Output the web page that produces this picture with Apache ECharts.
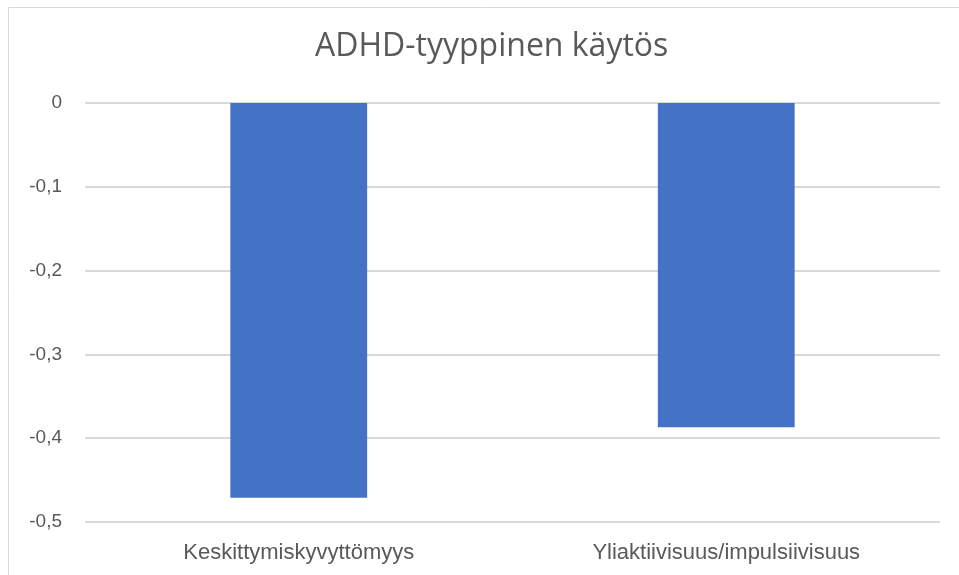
<!DOCTYPE html>
<html>
<head>
<meta charset="utf-8">
<script src="https://cdn.jsdelivr.net/npm/echarts@6/dist/echarts.min.js"></script>
<style>
html,body{margin:0;padding:0;background:#fff;}
#chart{width:959px;height:575px;}
</style>
</head>
<body>
<div id="chart"></div>
<script>
var categories = ['Keskittymiskyvyttömyys', 'Yliaktiivisuus/impulsiivisuus'];
var values = [-0.471, -0.387];
var yTicks = {min: -0.5, max: 0, interval: 0.1};

function fmtNum(v){
	return (Math.round(v * 10) / 10).toString().replace('.', ',');
}

var myChart = echarts.init(document.getElementById('chart'));
myChart.setOption({
	animation: false,
	title: {
		text: 'ADHD-tyyppinen käytös',
		left: 310,
		top: 26,
		textStyle: {
			color: '#595959',
			fontFamily: 'Open Sans',
			fontSize: 32,
			fontWeight: 'normal'
		}
	},
	graphic: [{
		type: 'rect',
		shape: {x: 8.5, y: 7.5, width: 1200, height: 1200},
		style: {fill: 'none', stroke: '#d9d9d9', lineWidth: 1},
		silent: true
	}],
	grid: {left: 85, right: 19, top: 103, bottom: 53},
	xAxis: {
		type: 'category',
		data: categories,
		position: 'bottom',
		axisLine: {show: false, onZero: false},
		axisTick: {show: false},
		axisLabel: {
			color: '#595959',
			fontFamily: 'Liberation Sans',
			fontSize: 22,
			margin: 20
		}
	},
	yAxis: {
		type: 'value',
		min: yTicks.min,
		max: yTicks.max,
		interval: yTicks.interval,
		axisLine: {show: false},
		axisTick: {show: false},
		axisLabel: {
			color: '#595959',
			fontFamily: 'Liberation Sans',
			fontSize: 19,
			margin: 23,
			formatter: fmtNum
		},
		splitLine: {lineStyle: {color: '#d9d9d9', width: 2}}
	},
	series: [{
		type: 'bar',
		data: values,
		barWidth: '32%',
		itemStyle: {color: '#4472c4'}
	}]
});
</script>
</body>
</html>
